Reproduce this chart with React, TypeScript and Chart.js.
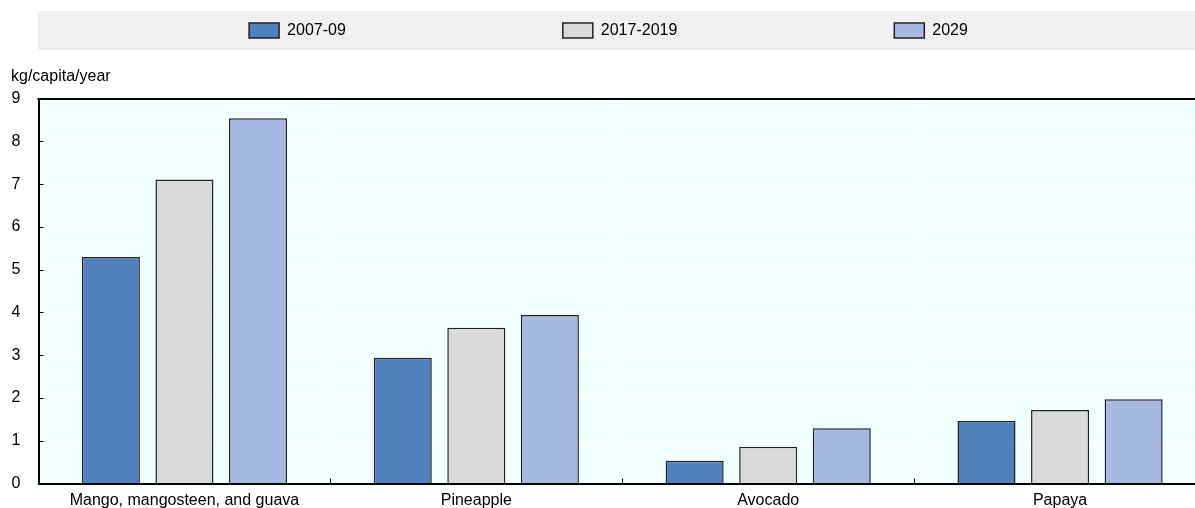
import React, { useEffect, useRef } from 'react';
import { Chart, registerables } from 'chart.js';

Chart.register(...registerables);

const categories = ['Mango, mangosteen, and guava', 'Pineapple', 'Avocado', 'Papaya'];
const seriesLabels = ['2007-09', '2017-2019', '2029'];
const values2007 = [5.3, 2.94, 0.53, 1.46];
const values2017 = [7.11, 3.64, 0.86, 1.72];
const values2029 = [8.54, 3.94, 1.29, 1.97];
const yMin = 0;
const yMax = 9;
const yStep = 1;
const yUnit = 'kg/capita/year';
const seriesColors = ['#4F81BD', '#DADADA', '#A7B9E3'];

const FONT = "'Liberation Sans', Arial, Helvetica, sans-serif";
const FS = 16;

const decor = {
  id: 'decor',
  beforeDraw(chart: any) {
    const { ctx, chartArea: a } = chart;
    ctx.save();
    ctx.fillStyle = '#F0F0F0';
    ctx.fillRect(38, 11, chart.width - 38, 39);
    ctx.fillStyle = '#F2FFFF';
    ctx.fillRect(a.left, a.top, a.right - a.left, a.bottom - a.top);
    ctx.restore();
  },
  afterDraw(chart: any) {
    const { ctx, chartArea: a, scales } = chart;
    const xs = scales.x;
    const ys = scales.y;
    ctx.save();
    ctx.strokeStyle = '#000';
    ctx.lineWidth = 1;
    ys.ticks.forEach((t: any) => {
      const py = Math.round(ys.getPixelForValue(t.value)) + 0.5;
      ctx.beginPath();
      ctx.moveTo(a.left, py);
      ctx.lineTo(a.left + 5, py);
      ctx.stroke();
    });
    for (let i = 1; i < categories.length; i++) {
      const px = Math.round((xs.getPixelForValue(i - 1) + xs.getPixelForValue(i)) / 2) + 0.5;
      ctx.beginPath();
      ctx.moveTo(px, a.bottom);
      ctx.lineTo(px, a.bottom - 5);
      ctx.stroke();
    }
    ctx.lineWidth = 2;
    ctx.beginPath();
    ctx.moveTo(a.left - 1, Math.round(a.top));
    ctx.lineTo(a.right, Math.round(a.top));
    ctx.stroke();
    ctx.restore();
  },
};

export default function App() {
  const ref = useRef<HTMLCanvasElement | null>(null);

  useEffect(() => {
    if (!ref.current) return;
    Chart.defaults.font.family = FONT;
    Chart.defaults.font.size = FS;
    Chart.defaults.color = '#000';
    const seriesValues = [values2007, values2017, values2029];
    const chart = new Chart(ref.current, {
      type: 'bar',
      data: {
        labels: categories,
        datasets: seriesLabels.map((label, i) => ({
          label,
          data: seriesValues[i],
          backgroundColor: seriesColors[i],
          borderColor: '#222',
          borderWidth: 1.5,
          categoryPercentage: 0.756,
          barPercentage: 0.789,
        })),
      },
      options: {
        responsive: false,
        animation: false,
        devicePixelRatio: 1,
        layout: { padding: { left: 11, right: 0, top: -194.5, bottom: 4 } },
        plugins: {
          tooltip: { enabled: false },
          legend: {
            display: true,
            position: 'top',
            align: 'center',
            labels: {
              boxWidth: 30,
              boxHeight: 15,
              padding: 217,
              color: '#000',
              font: { size: FS, family: FONT },
            },
          },
          title: {
            display: true,
            text: yUnit,
            align: 'start',
            position: 'top',
            weight: 500,
            padding: { top: 18, bottom: 13 },
            color: '#000',
            font: { size: FS, weight: 'normal', family: FONT },
          },
        },
        scales: {
          x: {
            afterFit: (scale: any) => {
              scale.height = 24.5;
            },
            grid: { color: '#FFFFFF', lineWidth: 1, drawTicks: false, offset: true },
            border: { display: true, color: '#000', width: 2 },
            ticks: { padding: 7, maxRotation: 0, autoSkip: false, color: '#000', font: { size: FS, family: FONT } },
          },
          y: {
            min: yMin,
            max: yMax,
            afterFit: (scale: any) => {
              scale.width = 27.5;
            },
            grid: { color: '#FFFFFF', lineWidth: 1, drawTicks: false },
            border: { display: true, color: '#000', width: 2 },
            ticks: { stepSize: yStep, padding: 18, color: '#000', font: { size: FS, family: FONT } },
          },
        },
      },
      plugins: [decor],
    } as any);
    return () => chart.destroy();
  }, []);

  return (
    <div style={{ position: 'fixed', left: 0, top: 0, width: 1195, height: 508, overflow: 'hidden', background: '#fff' }}>
      <canvas ref={ref} width={1206} height={512} style={{ display: 'block' }} />
    </div>
  );
}
